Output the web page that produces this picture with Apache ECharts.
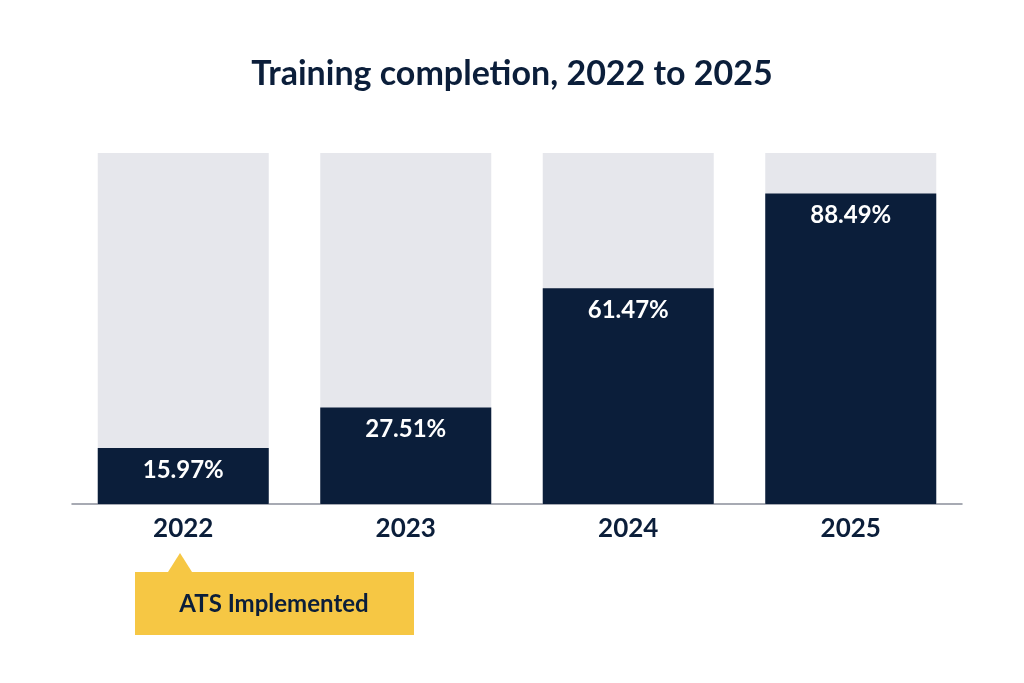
<!DOCTYPE html>
<html>
<head>
<meta charset="utf-8">
<script src="https://cdn.jsdelivr.net/npm/echarts@6/dist/echarts.min.js"></script>
<style>
html, body { margin: 0; padding: 0; background: #fff; }
#chart { width: 1024px; height: 683px; }
</style>
</head>
<body>
<div id="chart"></div>
<script>
const years = ['2022', '2023', '2024', '2025'];
const completion = [15.97, 27.51, 61.47, 88.49];
const full = [100, 100, 100, 100];

const navy = '#0b1e3a';
const font = 'Lato, "Noto Sans", sans-serif';

const myChart = echarts.init(document.getElementById('chart'));
myChart.setOption({
    animation: false,
    title: {
        text: 'Training completion, 2022 to 2025',
        left: 'center',
        top: 52,
        textStyle: {color: navy, fontSize: 34, fontWeight: 'bold', fontFamily: font}
    },
    grid: {left: 72, width: 890, top: 153, bottom: 179},
    xAxis: {
        type: 'category',
        data: years,
        axisLine: {lineStyle: {color: '#8a8f9a', width: 1.5}},
        axisTick: {show: false},
        axisLabel: {color: navy, fontSize: 26, fontWeight: 'bold', fontFamily: font, margin: 12}
    },
    yAxis: {type: 'value', min: 0, max: 100, show: false},
    series: [
        {
            type: 'bar',
            data: full,
            barWidth: 171,
            barGap: '-100%',
            itemStyle: {color: '#e6e7ec'},
            silent: true,
            z: 1
        },
        {
            type: 'bar',
            data: completion,
            barWidth: 171,
            itemStyle: {color: navy},
            z: 2,
            label: {
                show: true,
                position: 'insideTop',
                distance: 10,
                formatter: p => p.value.toFixed(2) + '%',
                color: '#fff',
                fontSize: 24,
                fontWeight: 'bold',
                fontFamily: font
            }
        }
    ],
    graphic: [
        {
            type: 'polygon',
            shape: {points: [[168, 572], [180, 553], [192, 572]]},
            style: {fill: '#f6c744'}
        },
        {
            type: 'rect',
            shape: {x: 135, y: 572, width: 279, height: 63},
            style: {fill: '#f6c744'}
        },
        {
            type: 'text',
            x: 274, y: 604,
            style: {
                text: 'ATS Implemented',
                align: 'center', verticalAlign: 'middle',
                fill: navy, fontSize: 24, fontWeight: 'bold', fontFamily: font
            }
        }
    ]
});
</script>
</body>
</html>
